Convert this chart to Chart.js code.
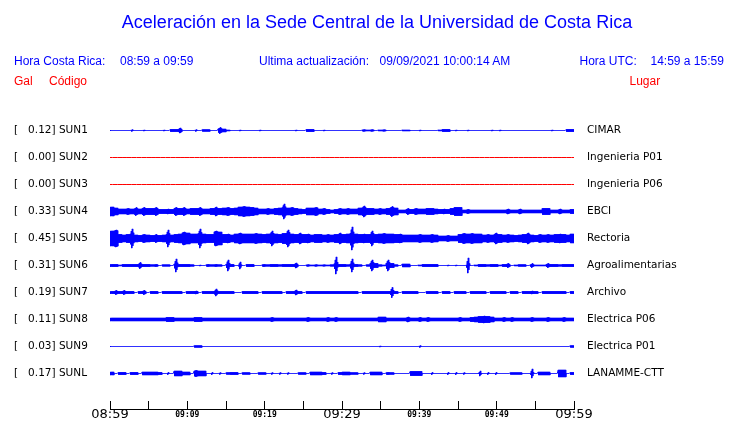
<!DOCTYPE html>
<html><head><meta charset="utf-8">
<script src="https://cdn.jsdelivr.net/npm/chart.js@4/dist/chart.umd.min.js"></script>
<style>
html,body{margin:0;padding:0;background:#fff;}
#wrap{position:relative;width:740px;height:423px;overflow:hidden;}
canvas{position:absolute;left:0;top:0;}
.t{position:absolute;font-family:"Liberation Sans",Arial,sans-serif;font-size:12px;line-height:12px;white-space:pre;}
.b{color:#0000ff}.r{color:#ff0000}
</style></head><body>
<div id="wrap">
<canvas id="c" width="740" height="423"></canvas>
<div class="t b" style="left:14px;top:55px">Hora Costa Rica:</div>
<div class="t b" style="left:120px;top:55px">08:59 a 09:59</div>
<div class="t b" style="left:259px;top:55px">Ultima actualización:</div>
<div class="t b" style="left:379.5px;top:55px">09/09/2021 10:00:14 AM</div>
<div class="t b" style="left:579.5px;top:55px">Hora UTC:</div>
<div class="t b" style="left:650.5px;top:55px">14:59 a 15:59</div>
<div class="t r" style="left:14px;top:74.5px">Gal</div>
<div class="t r" style="left:49px;top:74.5px">Código</div>
<div class="t r" style="left:629.5px;top:74.5px">Lugar</div>
</div>
<script>
const codes = ['SUN1','SUN2','SUN3','SUN4','SUN5','SUN6','SUN7','SUN8','SUN9','SUNL'];
const places = ['CIMAR','Ingenieria P01','Ingenieria P06','EBCI','Rectoria','Agroalimentarias','Archivo','Electrica P06','Electrica P01','LANAMME-CTT'];
const pga = [0.12, 0.00, 0.00, 0.33, 0.45, 0.31, 0.19, 0.11, 0.03, 0.17];
const timeLabels = ['08:59','09:09','09:19','09:29','09:39','09:49','09:59'];

// envelope half-amplitudes (116 samples over the hour)
const sun1 = [
 0,0,0,0,0,1.3,0,0,1,0,
 0,0,0,1,0,1.5,1.5,3,0,0,
 0,1.3,0,1.3,1.3,0,0,3.5,2,1,
 0,0,1,0,0,0,0,1,0,0,
 0,0,0,0,0,0,1,0,0,1.5,
 1.5,0,0,1,0,0,0,0,0,0,
 0,0,0,1.3,1,1.3,0,1,1.2,0,
 0,0,0,1,1,0,0,1,0,0,
 0,0,1,1.5,1.5,0,1,0,0,1,
 0,0,0,0,0,1,0,1,0,0,
 0,0,0,0,0,0,0,0,0,0,
 1,0,0,0,1.5,1.5];
const sun2 = [0,0,0,0,0,0,0,0,0,0,0,0];
const sun3 = [0,0,0,0,0,0,0,0,0,0,0,0];
const sun4 = [
 5,4,3,3,3.5,3,4.5,3,4.5,3.5,
 3.5,4.5,2.5,2.5,3,2.5,4.5,3.5,4.5,3,
 3.5,3.5,4.5,3,3,3.5,5,3.5,4,4.5,
 3.5,4,5,5.5,5,4.5,4,3,3,3.5,
 3,3.5,4,8,4,4.5,3.5,3,2.5,4,
 4,4.5,3,3.5,2.5,2,2.5,3.5,3,3.5,
 3,3,4,6,3.5,3.5,3,3.5,3,3.5,
 5.5,4,2,2,3.5,2.5,3.5,3,3,3.5,
 3.5,3,2.5,3,2.5,3.5,4.5,4.5,2,2.5,
 2,2,2,2,2,2,2,2,2,3,
 2,2,3,2,2,2,2,2,3.5,3.5,
 2,2,3,2,2,2.5];
const sun5 = [
 8,9,4.5,4,4.5,10,4,3.5,4.5,4,
 3.5,4.5,3.5,4,9,4,4.5,5,7,6,
 5,5,10,5,4.5,4.5,8,7,4.5,5,
 4,5,6,5,5,5,5.5,5,4.5,5,
 8,5,4.5,5.5,9,5,4.5,6,4.5,5,
 4,4.5,4.5,4,4.5,4,4.5,6,4.5,5,
 12,5,4.5,5,4.5,8,4.5,5,5.5,5,
 5,4.5,5,4,4,4,4,4.5,4,4,
 4.5,4,3,3,3.5,3,3,4.5,5.5,5,
 5.5,5,5,4,4.5,4,6,4.5,4,4.5,
 4,3.5,4,4.5,6,4,3.5,4.5,4,4.5,
 4,4.5,5,4.5,4,5];
const sun6 = [
 1.5,1.5,1,1.5,1.5,1.5,1.5,3.5,1.5,1.5,
 1.2,1.5,0,1.2,1.2,0,7,1.5,1.5,1.5,
 1.2,0,1,0,1.5,1.2,1.5,1.2,0,6,
 1.5,0,4,0,1.5,1.5,0,0,1.5,1.2,
 1.5,1.5,1.2,1.5,1.5,1.5,3,0,0,1.3,
 1,1.3,1,1.2,1,1.2,9,1.5,1.5,1.2,
 7,1.5,1.2,0,1.2,6,2.5,1.2,1,6,
 2.5,1.2,0,2,2,0,0,1,1.5,1.5,
 1.5,1.5,0,0,1,0,1,0,0,8,
 0,1,1.5,1.5,1.2,1.5,1.5,1,1.5,2.5,
 0,1,1.3,1.3,0,2.5,1,1,1,2.5,
 1.5,1.5,1.2,1.5,1.5,1.5];
const sun7 = [
 1.5,2.5,1.5,2.5,1.5,1.5,0,1.5,2.5,0,
 1.5,1.5,0,1.5,1.5,1.5,1.5,1.5,0,1.5,
 1.5,2,0,1.5,1.5,1.5,4,1.5,1.5,1.5,
 1.5,0,0,1.5,1.5,1.5,1.5,0,1.5,1.5,
 1.5,1.5,1.5,0,1.5,1.5,3,1.5,0,1.5,
 1.5,1.5,1.5,1.5,1.5,1.5,1.5,1.5,1.5,1.5,
 1.5,1.5,0,1.5,1.5,1.5,1.5,1.5,1.5,1.5,
 5.5,1.5,0,1.5,1.5,1.5,1.5,0,0,1.5,
 1.5,1.5,0,1.5,1.5,0,1.5,1.5,1.5,0,
 1.5,1.5,1.5,1.5,0,1.5,1.5,1.5,1.5,0,
 1.5,1.5,0,1.5,1.5,2,1.5,0,1.5,1.5,
 1.5,1.5,1.5,1.5,0,1.5];
const sun8 = [
 2,2,2,2,2,2,2,2,2,2,
 2,2,2,2,2.5,2.5,2,2,2,2,
 2,2.5,2.5,2,2,2,2,2,2,2,
 2,2,2,2,2,2,2,2,2,2,
 2.5,2,2,2,2,2,2,2,2,2.5,
 2,2,2,2,2.5,2,2.5,2,2,2,
 2,2,2,2,2,2,2,3,3,2,
 2,2,2,2,3,2,2,2.5,2,2.5,
 2,2,2,2,2,2,2,2.5,2,2,
 2.5,3,3.5,4,3.5,3,2,2,2.5,2,
 2.5,2,2,2,2,2.5,2,2,2,2.5,
 2,2,2,2.5,2,2];
const sun9 = [
 0,0,0,0,0,0,0,0,0,0,
 0,0,0,0,0,0,0,0,0,0,
 0,1.3,1.3,0,0,0,0,0,0,0,
 0,0,0,0,0,0,0,0,0,0,
 0,0,0,0,0,0,0,0,0,0,
 0,0,0,0,0,0,0,0,0,0,
 0,0,0,0,0,0,0,1,0,0,
 0,0,0,0,0,0,0,1.3,0,0,
 0,0,0,0,0,0,0,0,0,0,
 0,0,0,0,0,0,0,0,0,0,
 0,0,0,0,0,0,0,0,0,0,
 0,0,0,0,0,1.3];
const sunl = [
 2,0,1.5,1.5,0,1.5,1.5,0,2,2,
 2,2,1.5,0,1.5,0,3,3,2,2,
 0,3.5,3,3,0,1.5,0,1.3,0,1.3,
 1.5,1.5,0,1.3,1.3,0,0,1.3,1.3,0,
 1.3,0,1.3,0,1.3,0,0,1.3,1.3,0,
 2,2,2,1.5,0,1.3,0,1.5,2,2,
 1.3,1.3,0,1.3,0,2,2,2,0,1.5,
 1.3,0,0,0,0,2.5,2.5,2.5,0,0,
 1.5,0,0,0,1.5,0,1.5,0,1.3,0,
 0,0,3,0,1.5,0,1.5,0,0,0,
 1.3,1.3,1.3,0,0,5,0,2,2,2,
 0,0,4,4,0,1.5];

const traces = [sun1, sun2, sun3, sun4, sun5, sun6, sun7, sun8, sun9, sunl];
const SPACING = 27;
const offsets = traces.map((_, i) => i * SPACING);
// zigzag strokes per envelope sample; a sample's peak above its neighbours is drawn as a narrow spike
const SPIKE = [0.1, 0.3, 0.6, 1, 1, 0.6, 0.3, 0.1];

const datasets = traces.map((amps, i) => {
  const base = offsets[i];
  const n = amps.length;
  const dt = 60 / n;
  const pts = [{x: 0, y: base}];
  amps.forEach((a, k) => {
    const prev = k > 0 ? amps[k - 1] : a;
    const next = k < n - 1 ? amps[k + 1] : a;
    const floor = Math.min(a, Math.max(prev, next));
    SPIKE.forEach((f, j) => {
      const h = Math.max(floor + (a - floor) * f - 0.4, 0);
      pts.push({x: (k + (j + 0.5) / SPIKE.length) * dt, y: base + (j % 2 ? h : -h)});
    });
  });
  pts.push({x: 60, y: base});
  const flat = amps.every(a => a === 0);
  return {
    label: codes[i], data: pts,
    borderColor: flat ? '#ff0000' : '#0000ff',
    borderWidth: 1, pointRadius: 0, borderJoinStyle: 'bevel',
    fill: false, tension: 0
  };
});

const leftLabels = codes.map((c, i) => '[' + pga[i].toFixed(2).padStart(7, ' ') + '] ' + c);
const setTraceTicks = s => { s.ticks = offsets.map(v => ({value: v})); };
const labelFont = {family: 'DejaVu Sans', size: 10.5};

new Chart(document.getElementById('c'), {
  type: 'line',
  data: {datasets},
  options: {
    responsive: false, animation: false, devicePixelRatio: 1,
    layout: {padding: {left: 14, right: 0, top: 0, bottom: 0}},
    plugins: {
      legend: {display: false}, tooltip: {enabled: false},
      title: {
        display: true,
        text: 'Aceleración en la Sede Central de la Universidad de Costa Rica',
        color: '#0000ff',
        font: {family: 'Liberation Sans', size: 18, weight: 'normal'},
        padding: {top: 12, bottom: 81.4}
      }
    },
    scales: {
      x: {
        type: 'linear', min: 0, max: 60,
        afterFit: s => { s.height = 14; },
        grid: {display: true, drawOnChartArea: false, drawTicks: true, tickLength: -8, color: '#000', lineWidth: 1},
        border: {display: true, color: '#000', width: 1},
        ticks: {
          stepSize: 5, autoSkip: false, maxRotation: 0, padding: 6, color: '#000',
          callback: v => (v % 10 === 0 ? timeLabels[v / 10] : ''),
          font: ctx => (ctx.tick && ctx.tick.value % 30 === 0)
            ? {family: 'DejaVu Sans', size: 13, lineHeight: 1.2}
            : {family: 'DejaVu Sans Mono', size: 8, weight: 'bold', lineHeight: 1.95}
        }
      },
      y: {
        type: 'linear', position: 'left', reverse: true, min: -15.5, max: 278.5,
        afterFit: s => { s.width = 96; s.paddingTop = 0; s.paddingBottom = 0; },
        afterBuildTicks: setTraceTicks,
        grid: {display: false, drawTicks: false}, border: {display: false},
        ticks: {crossAlign: 'far', color: '#000', font: labelFont, autoSkip: false,
          callback: (v, i) => leftLabels[i]}
      },
      yr: {
        type: 'linear', position: 'right', reverse: true, min: -15.5, max: 278.5, display: true,
        afterFit: s => { s.width = 166; s.paddingTop = 0; s.paddingBottom = 0; },
        afterBuildTicks: setTraceTicks,
        grid: {display: false, drawTicks: false}, border: {display: false},
        ticks: {padding: 13, color: '#000', font: labelFont, autoSkip: false,
          callback: (v, i) => places[i]}
      }
    }
  }
});
</script>
</body></html>
